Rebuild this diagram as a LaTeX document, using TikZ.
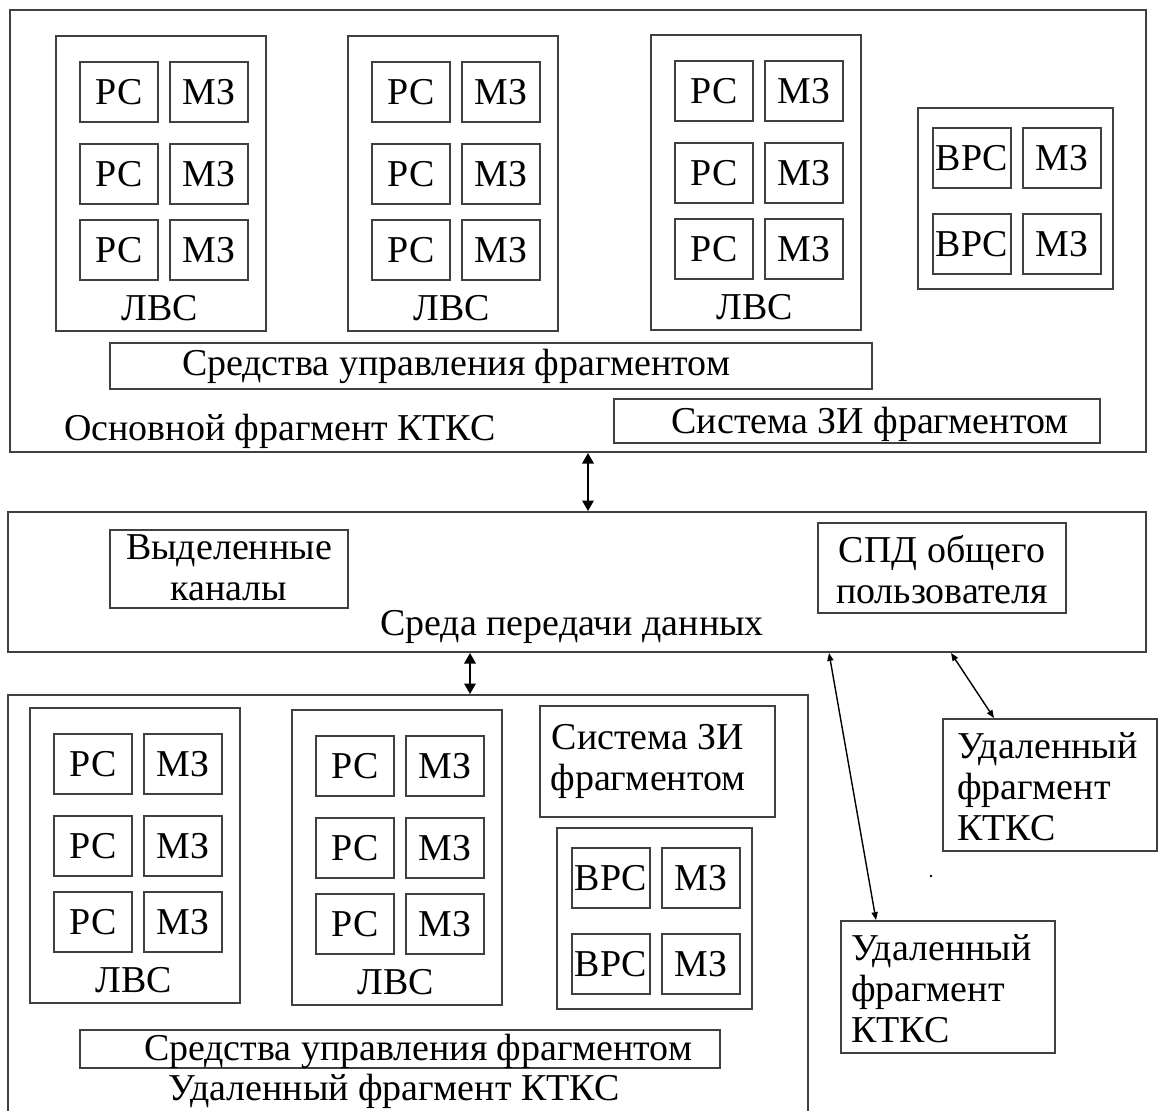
\documentclass[tikz,border=0pt]{standalone}
\usepackage{fontspec}
\setmainfont{Liberation Serif}
\usetikzlibrary{arrows.meta,fit}

\newcommand{\upx}{0.02cm}

\begin{document}
\begin{tikzpicture}[
    x=\upx, y=-\upx,
    every node/.style={font=\fontsize{21.6}{23.3}\selectfont, inner sep=0pt},
    blk/.style={draw=black!75, line width=1.1pt},
    wrap/.style={blk, fit={#1}},
    cell/.style={blk, minimum width=78*\upx, minimum height=60*\upx},
    link/.style={black, line width=1.1pt,
        {Triangle[length=6pt,width=6.5pt]}-{Triangle[length=6pt,width=6.5pt]}},
    farlink/.style={black, line width=0.8pt,
        {Triangle[length=4.5pt,width=3.5pt]}-{Triangle[length=4.5pt,width=3.5pt]}},
]
\useasboundingbox (0,0) rectangle (1158,1110);

% =====================================================================
% Main fragment
% =====================================================================
\node[wrap={(10,10) (1146,452)}] (main) {};
\node[wrap={(110,343) (872,389)}] (ctl-main) {};
\node at (456,366) {Средства управления фрагментом};
\node[wrap={(614,399) (1100,443)}] (zi-main) {};
\node at (870,424) {Система ЗИ фрагментом};
\node at (280,431) {Основной фрагмент КТКС};

% =====================================================================
% Data network
% =====================================================================
\node[wrap={(8,512) (1146,652)}] (net) {};
\node[wrap={(110,530) (348,608)}] (ded) {};
\node[align=center] at ([yshift=1*\upx]ded.center) {Выделенные\\каналы};
\node[wrap={(818,523) (1066,613)}] (spd) {};
\node[align=center] at ([yshift=-2*\upx]spd.center) {СПД общего\\пользователя};
\node at (572,627) {Среда передачи данных};

% =====================================================================
% Remote fragment (bottom)
% =====================================================================
\node[wrap={(8,695) (808,1125)}] (rem) {};
\node[wrap={(540,706) (775,817)}] (zi-rem) {};
\node[align=center] at (648,761) {Система ЗИ\\фрагментом};
\node[wrap={(80,1030) (720,1068)}] (ctl-rem) {};
\node at (418,1051) {Средства управления фрагментом};
\node at (394,1091) {Удаленный фрагмент КТКС};

% LAN blocks: 3 rows of workstation + memory
\foreach \n/\x/\y in {a/56/36, b/348/36, c/651/35, d/30/708, e/292/710} {
    \node[wrap={(\x,\y) (\x+210,\y+295)}] (lvs-\n) {};
    \foreach \r/\dy in {1/56, 2/138, 3/214} {
        \node[cell] (rs-\n\r) at (\x+63,\y+\dy) {РС};
        \node[cell] (mz-\n\r) at (\x+153,\y+\dy) {МЗ};
    }
    \node (lvs-\n-t) at (\x+104,\y+272) {ЛВС};
}

% Server blocks
\foreach \n/\x/\y in {a/918/108, b/557/828} {
    \node[wrap={(\x,\y) (\x+195,\y+181)}] (vrs-\n) {};
    \foreach \r/\dy in {1/50, 2/136} {
        \node[cell] (vr-\n\r) at (\x+54,\y+\dy) {ВРС};
        \node[cell] (vm-\n\r) at (\x+144,\y+\dy) {МЗ};
    }
}

% Remote fragments (right)
\node[wrap={(943,719) (1157,851)}] (far-a) {};
\node[align=left, anchor=west] at (957,787) {Удаленный\\фрагмент\\КТКС};
\node[wrap={(841,921) (1055,1053)}] (far-b) {};
\node[align=left, anchor=west] at (851,989) {Удаленный\\фрагмент\\КТКС};

% Links
\coordinate (x1) at (588,0);
\coordinate (x2) at (470,0);
\coordinate (s1) at (829,0);
\coordinate (t1) at (876,0);
\coordinate (s2) at (951,0);
\coordinate (t2) at (994,0);
\draw[link] (main.south -| x1) -- (net.north -| x1);
\draw[link] (net.south -| x2) -- (rem.north -| x2);
\draw[farlink] (net.south -| s1) -- (far-b.north -| t1);
\draw[farlink] (net.south -| s2) -- (far-a.north -| t2);

\fill (931,876) circle (1.3);
\end{tikzpicture}
\end{document}
